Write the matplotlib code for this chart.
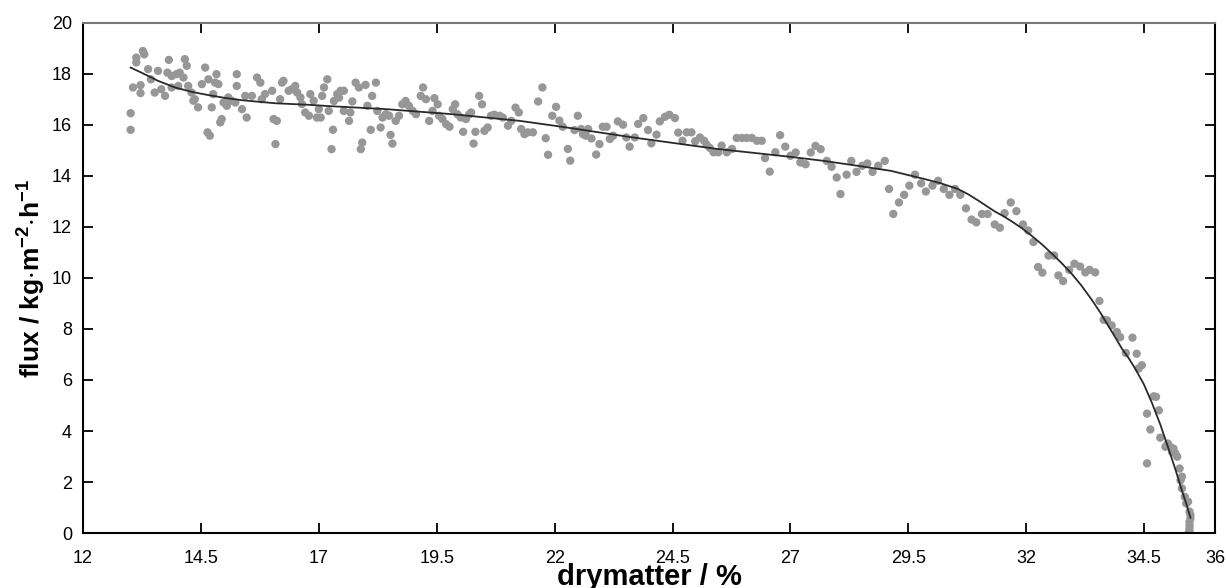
import matplotlib
matplotlib.use('Agg')
import matplotlib.pyplot as plt
import numpy as np

plt.rcParams['font.family'] = ['Liberation Sans', 'DejaVu Sans']
plt.rcParams['mathtext.default'] = 'regular'

# measured points: drymatter (%) and flux (kg/m2/h)
drymatter = [
    13.13, 13.27, 13.30, 13.13, 13.06, 13.22, 13.22, 13.01, 13.01, 13.38,
    13.44, 13.59, 13.52, 13.66, 13.74, 13.82, 13.79, 13.88, 13.98, 14.05,
    14.16, 14.20, 14.13, 13.88, 14.02, 14.23, 14.30, 14.37, 14.44, 14.34,
    14.52, 14.59, 14.66, 14.73, 14.64, 14.69, 14.83, 14.87, 14.76, 14.80,
    14.94, 14.91, 14.98, 15.05, 15.08, 15.15, 15.26, 15.26, 15.23, 15.37,
    15.44, 15.47, 15.58, 15.69, 15.76, 15.79, 15.86, 16.01, 16.04, 16.11,
    16.08, 16.18, 16.22, 16.25, 16.36, 16.43, 16.50, 16.54, 16.61, 16.64,
    16.71, 16.79, 16.82, 16.89, 16.96,
    17.18, 17.11, 17.07, 17.00, 17.04, 17.21, 17.32, 17.39, 17.46, 17.53,
    17.43, 17.30, 17.27, 17.53, 17.64, 17.67, 17.71, 17.78, 17.85, 17.99,
    18.21, 18.13, 18.03, 18.24, 18.10, 17.92, 17.89, 18.31, 18.35, 18.42,
    18.49, 18.52, 18.56, 18.63, 18.70, 18.77, 18.84, 18.91, 18.99, 19.06,
    19.16, 19.21, 19.27, 19.34, 19.41, 19.45, 19.52, 19.55, 19.62, 19.70,
    19.77, 19.84, 19.89, 19.94, 20.01, 20.06, 20.12, 20.19, 20.23, 20.28,
    20.32, 20.40, 20.46, 20.51, 20.58, 20.65, 20.72, 20.83, 20.90, 21.01,
    21.08, 21.17, 21.24, 21.29, 21.36, 21.43, 21.54, 21.65, 21.74, 21.81,
    21.86,
    22.03, 21.95, 22.10, 22.17, 22.28, 22.33, 22.42, 22.49, 22.56, 22.60,
    22.66, 22.71, 22.78, 22.88, 22.95, 23.02, 23.10, 23.17, 23.24, 23.34,
    23.45, 23.52, 23.59, 23.70, 23.77, 23.88, 23.98, 24.05, 24.16, 24.23,
    24.34, 24.43, 24.55, 24.62, 24.71, 24.80, 24.90, 24.98, 25.08, 25.17,
    25.22, 25.29, 25.37, 25.47, 25.54, 25.65, 25.76, 25.86, 25.97, 26.07,
    26.18, 26.29, 26.39, 26.46, 26.56, 26.68, 26.78, 26.89,
    27.11, 27.00, 27.21, 27.32, 27.43, 27.53, 27.64, 27.77, 27.87, 27.98,
    28.06, 28.19, 28.29, 28.40, 28.52, 28.63, 28.74, 28.86, 29.00, 29.09,
    29.18, 29.30, 29.41, 29.52, 29.64, 29.77, 29.87, 30.01, 30.13, 30.25,
    30.37, 30.49, 30.60, 30.72, 30.84, 30.94, 31.06, 31.18,
    31.33, 31.44, 31.54, 31.67, 31.79, 31.93, 32.04, 32.15, 32.47, 32.59,
    32.25, 32.34, 32.68, 32.78, 32.91, 33.02, 33.14, 33.25, 33.34, 33.46,
    33.55,
    33.64, 33.71, 33.81, 33.92, 33.99, 34.25, 34.11, 34.34, 34.45, 34.38,
    34.70, 34.75, 34.56, 34.81, 34.63, 34.84, 34.95, 35.05, 35.12, 35.20,
    35.25, 35.30, 35.30, 35.36, 35.43, 35.46, 35.48, 35.46, 35.46, 35.44,
    34.56, 35.00, 35.09, 35.16, 35.27, 35.39, 35.48, 35.46, 35.46,
]
flux = [
    18.64, 18.90, 18.77, 18.45, 17.47, 17.56, 17.25, 16.46, 15.81, 18.19,
    17.79, 18.12, 17.27, 17.40, 17.14, 18.55, 18.05, 17.92, 17.99, 18.05,
    18.58, 18.32, 17.86, 17.47, 17.53, 17.53, 17.27, 17.01, 16.69, 16.95,
    17.60, 18.25, 17.79, 16.69, 15.71, 15.58, 17.99, 17.60, 17.21, 17.66,
    16.23, 16.10, 16.88, 16.75, 17.08, 16.95, 17.99, 17.53, 16.88, 16.62,
    17.14, 16.29, 17.14, 17.86, 17.66, 17.01, 17.21, 17.34, 16.23, 16.16,
    15.25, 17.01, 17.66, 17.73, 17.34, 17.40, 17.53, 17.27, 17.08, 16.82,
    16.49, 16.36, 17.21, 16.95, 16.29,
    17.79, 17.47, 17.14, 16.62, 16.29, 16.55, 16.94, 17.21, 17.34, 17.34,
    17.07, 15.81, 15.05, 16.55, 16.16, 16.49, 16.92, 17.66, 17.47, 17.57,
    17.66, 17.14, 16.75, 16.55, 15.81, 15.31, 15.05, 15.90, 16.29, 16.42,
    16.36, 15.61, 15.27, 16.16, 16.36, 16.81, 16.94, 16.75, 16.55, 16.42,
    17.14, 17.47, 17.01, 16.16, 16.55, 17.05, 16.81, 16.36, 16.23, 16.03,
    15.93, 16.62, 16.81, 16.42, 16.29, 15.73, 16.23, 16.42, 16.49, 15.27,
    15.73, 17.14, 16.81, 15.77, 15.90, 16.36, 16.40, 16.36, 16.29, 15.97,
    16.16, 16.68, 16.49, 15.84, 15.64, 15.71, 15.71, 16.92, 17.47, 15.48,
    14.83,
    16.71, 16.36, 16.17, 15.93, 15.06, 14.60, 15.80, 16.36, 15.84, 15.64,
    15.58, 15.84, 15.47, 14.84, 15.25, 15.93, 15.93, 15.45, 15.58, 16.14,
    16.01, 15.51, 15.15, 15.51, 16.04, 16.27, 15.80, 15.28, 15.62, 16.14,
    16.32, 16.40, 16.27, 15.70, 15.38, 15.71, 15.71, 15.36, 15.51, 15.38,
    15.23, 15.10, 14.93, 14.93, 15.19, 14.93, 15.06, 15.49, 15.49, 15.49,
    15.49, 15.38, 15.38, 14.70, 14.17, 14.93, 15.60, 15.15,
    14.92, 14.79, 14.53, 14.46, 14.92, 15.18, 15.05, 14.59, 14.36, 13.94,
    13.29, 14.05, 14.59, 14.16, 14.40, 14.49, 14.16, 14.40, 14.59, 13.49,
    12.51, 12.96, 13.26, 13.62, 14.05, 13.71, 13.39, 13.62, 13.81, 13.49,
    13.26, 13.49, 13.26, 12.73, 12.29, 12.18, 12.51, 12.51,
    12.10, 11.97, 12.54, 12.96, 12.62, 12.10, 11.86, 11.41, 10.88, 10.88,
    10.43, 10.21, 10.10, 9.88, 10.32, 10.56, 10.45, 10.22, 10.32, 10.22,
    9.10,
    8.36, 8.34, 8.14, 7.88, 7.68, 7.66, 7.06, 7.03, 6.58, 6.45,
    5.36, 5.34, 4.68, 4.81, 4.06, 3.74, 3.38, 3.38, 3.31, 2.99,
    2.53, 2.21, 1.75, 1.42, 1.23, 0.84, 0.57, 0.31, 0.05, 0.00,
    2.73, 3.51, 3.18, 3.12, 2.07, 1.16, 0.71, 0.44, 0.18,
]

# fitted trend line
fit_x = [13.01, 13.24, 13.59, 13.95, 14.30, 14.66, 15.01, 15.37, 15.72, 16.08,
         16.43, 16.79, 17.21, 18.42, 19.84, 21.26, 22.11, 23.66, 25.44, 27.00,
         27.71, 28.42, 29.13, 29.84, 30.19, 30.55, 30.76, 30.97, 31.15, 31.33,
         31.50, 31.69, 31.90, 32.11, 32.33, 32.54, 32.75, 32.96, 33.17, 33.39,
         33.57, 33.74, 33.89, 34.03, 34.17, 34.31, 34.49, 34.66, 34.84, 35.02,
         35.16, 35.30, 35.40, 35.48]
fit_y = [18.25, 18.05, 17.73, 17.47, 17.30, 17.17, 17.06, 16.97, 16.91, 16.85,
         16.82, 16.79, 16.74, 16.62, 16.42, 16.16, 15.94, 15.51, 15.06, 14.75,
         14.59, 14.40, 14.20, 13.88, 13.71, 13.49, 13.29, 13.05, 12.83, 12.61,
         12.44, 12.22, 11.96, 11.66, 11.32, 10.96, 10.58, 10.17, 9.70, 9.14,
         8.64, 8.12, 7.66, 7.22, 6.86, 6.44, 5.84, 5.12, 4.26, 3.28,
         2.50, 1.66, 1.10, 0.60]

x_ticks = [12, 14.5, 17, 19.5, 22, 24.5, 27, 29.5, 32, 34.5, 36]
x_ticklabels = ['12', '14.5', '17', '19.5', '22', '24.5', '27', '29.5', '32', '34.5', '36']
y_ticks = list(range(0, 21, 2))

fig = plt.figure(figsize=(12.26, 5.88), dpi=100)
ax = fig.add_axes([0.0677, 0.0935, 0.9233, 0.8675])

ax.scatter(drymatter, flux, s=36, color='#979797', edgecolors='none', zorder=2)
ax.plot(fit_x, fit_y, color='#2a2a2a', linewidth=1.3, zorder=3)

ax.set_xlim(12, 36)
ax.set_ylim(0, 20)
ax.set_xticks(x_ticks)
ax.set_xticklabels(x_ticklabels)
ax.set_yticks(y_ticks)

ax.tick_params(direction='in', length=7, width=1.3, labelsize=13,
               top=True, right=True, colors='black')
ax.tick_params(axis='x', pad=12)
ax.tick_params(axis='y', pad=8)

for side in ['left', 'bottom', 'right']:
    ax.spines[side].set_linewidth(1.5)
    ax.spines[side].set_color('black')
ax.spines['top'].set_linewidth(1.5)
ax.spines['top'].set_color('#777777')

ax.set_xlabel('drymatter / %', fontsize=21, fontweight='bold', labelpad=-3)
ax.set_ylabel(r'flux / kg$\cdot$m$^{-2}$$\cdot$h$^{-1}$', fontsize=19,
              fontweight='bold', labelpad=3)

plt.savefig('out.png', dpi=100)
